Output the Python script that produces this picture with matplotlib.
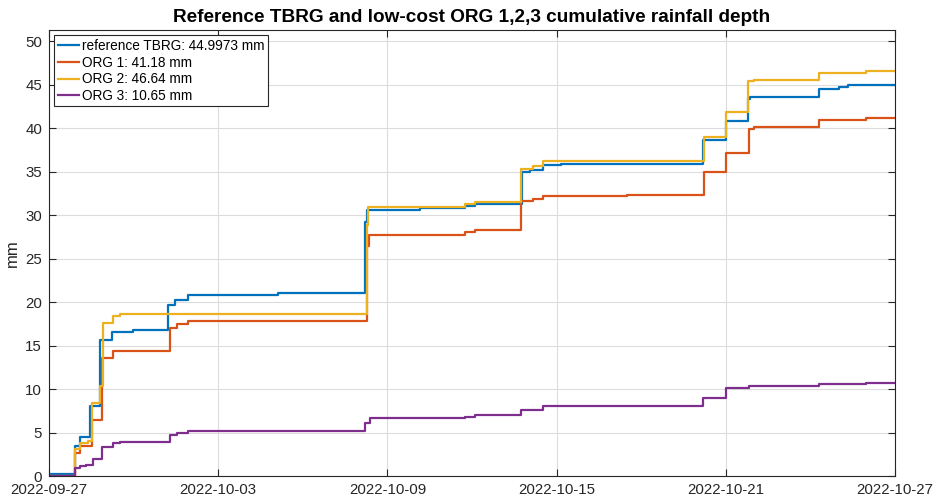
import numpy as np
import pandas as pd
import matplotlib
matplotlib.use("Agg")
import matplotlib.pyplot as plt

start = pd.Timestamp("2022-09-27")

# times in days after 2022-09-27 00:00, cumulative depth in mm
tbrg_t = [0, 0.86, 0.92, 1.10, 1.45, 1.81, 2.22, 2.98, 4.23, 4.46, 4.94, 8.13,
          11.22, 11.28, 13.15, 14.74, 15.10, 16.76, 17.04, 17.52, 18.17, 23.19,
          24.02, 24.78, 24.85, 27.32, 28.03, 28.32, 30.0]
tbrg_v = [0.2, 0.2, 3.4, 4.5, 8.0, 15.6, 16.6, 16.85, 19.65, 20.3, 20.8, 21.0,
          29.2, 30.57, 30.77, 31.0, 31.26, 34.98, 35.17, 35.75, 35.94, 38.7,
          40.8, 43.4, 43.6, 44.56, 44.75, 44.9973, 44.9973]

org1_t = [0, 0.92, 1.10, 1.51, 1.87, 2.28, 4.29, 4.53, 4.94, 11.28, 11.35,
          14.74, 15.10, 16.75, 17.16, 17.52, 20.5, 23.21, 24.0, 24.81, 25.0,
          27.32, 28.98, 30.0]
org1_v = [0, 2.6, 3.4, 6.4, 13.6, 14.4, 16.97, 17.47, 17.85, 26.4, 27.7,
          28.08, 28.28, 31.65, 31.85, 32.2, 32.3, 35.0, 37.2, 39.95, 40.1,
          41.0, 41.18, 41.18]

org2_t = [0, 0.92, 1.10, 1.39, 1.51, 1.81, 1.90, 2.28, 2.52, 11.26, 11.32,
          14.74, 15.10, 16.72, 17.16, 17.52, 23.21, 24.02, 24.78, 25.0, 27.32,
          28.98, 30.0]
org2_v = [0, 3.07, 3.75, 4.0, 8.4, 10.3, 17.6, 18.4, 18.65, 28.85, 30.95,
          31.26, 31.5, 35.36, 35.6, 36.25, 39.0, 41.87, 45.44, 45.5, 46.36,
          46.64, 46.64]

org3_t = [0, 0.92, 1.10, 1.30, 1.57, 1.87, 2.28, 2.52, 4.29, 4.53, 4.94, 11.22,
          11.40, 14.74, 15.10, 16.72, 17.52, 23.19, 24.02, 24.81, 27.32, 28.98,
          30.0]
org3_v = [0, 0.88, 1.15, 1.3, 1.9, 3.37, 3.83, 3.9, 4.71, 4.98, 5.17, 6.13,
          6.63, 6.82, 6.97, 7.59, 8.08, 8.93, 10.08, 10.34, 10.57, 10.65, 10.65]

labels = ["reference TBRG: 44.9973 mm", "ORG 1: 41.18 mm",
          "ORG 2: 46.64 mm", "ORG 3: 10.65 mm"]
colors = ["#0072BD", "#D95319", "#EDB120", "#7E2F8E"]
xtick_labels = ["2022-09-27", "2022-10-03", "2022-10-09", "2022-10-15",
                "2022-10-21", "2022-10-27"]

plt.rcParams['font.family'] = ['Liberation Sans', 'DejaVu Sans']

fig = plt.figure(figsize=(9.34, 4.97), dpi=100)
ax = fig.add_axes([49/934, 21/497, 846/934, 446/497])

series = [(tbrg_t, tbrg_v), (org1_t, org1_v), (org2_t, org2_v), (org3_t, org3_v)]
for (t, v), lab, c in zip(series, labels, colors):
    times = start + pd.to_timedelta(np.array(t), unit="D")
    ax.plot(times, v, drawstyle="steps-post", color=c, lw=1.6, label=lab)

xt = pd.to_datetime(xtick_labels)
ax.set_xlim(xt[0], xt[-1])
ax.set_xticks(xt)
ax.set_xticklabels(xtick_labels)
ax.set_ylim(0, 51.3)
ax.set_yticks(np.arange(0, 51, 5))

ax.grid(True, color="#dcdcdc", lw=0.8)
ax.set_axisbelow(True)
for s in ax.spines.values():
    s.set_color("#262626")
    s.set_linewidth(0.8)
ax.tick_params(direction="in", length=5, width=0.8, colors="#262626",
               labelsize=10.8, top=True, right=True, labelcolor="#262626")
ax.tick_params(axis="x", pad=5)
ax.tick_params(axis="y", pad=5)

ax.set_ylabel("mm", fontsize=12, color="#262626", labelpad=4)
ax.set_title("Reference TBRG and low-cost ORG 1,2,3 cumulative rainfall depth",
             fontsize=13.7, fontweight="bold", pad=6)

leg = ax.legend(loc="upper left", fontsize=9.8, handlelength=1.55,
                handletextpad=0.2, borderpad=0.25, labelspacing=0.2,
                fancybox=False, framealpha=1, borderaxespad=0.4)
leg.get_frame().set_edgecolor("#262626")
leg.get_frame().set_linewidth(0.8)

fig.savefig("out.png", dpi=100)
